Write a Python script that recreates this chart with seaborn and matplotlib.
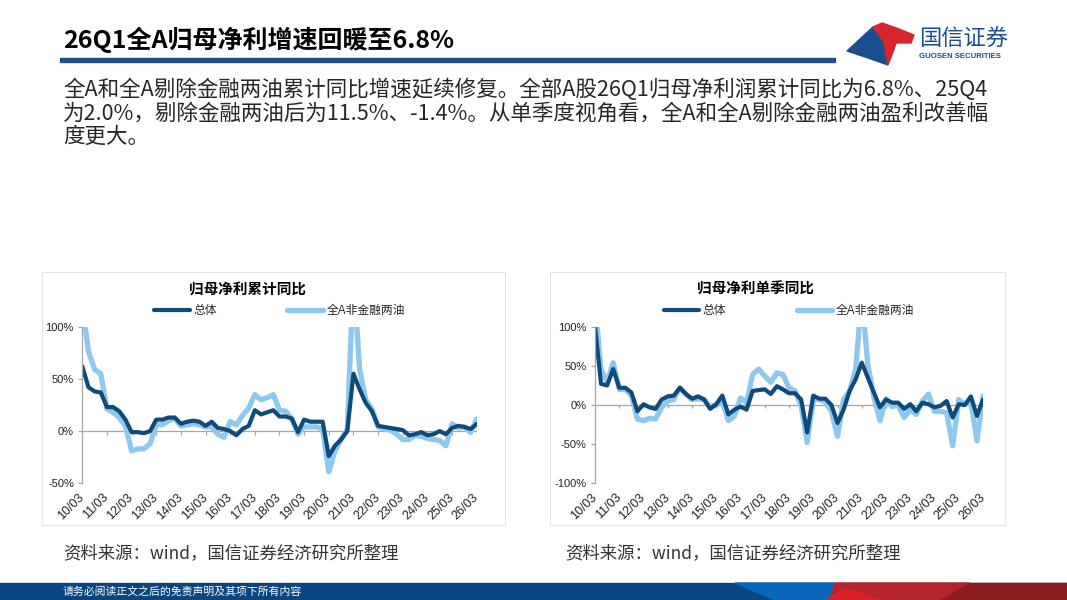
import matplotlib.pyplot as plt
import matplotlib.patches as mpatches
import numpy as np
import seaborn as sns
from matplotlib.lines import Line2D

# ---- data (quarterly, 10Q1 .. 26Q1), percent ----
year_labels = ["10/03", "11/03", "12/03", "13/03", "14/03", "15/03", "16/03", "17/03",
               "18/03", "19/03", "20/03", "21/03", "22/03", "23/03", "24/03", "25/03", "26/03"]

cum_total = [62, 42, 38, 37, 23, 23, 19, 11, -1, -1, -2, 0, 11, 11, 13, 13,
             7, 9, 10, 9, 5, 9, 3, 2, 0, -4, 2, 5, 20, 16, 18, 20,
             14, 14, 12, -1, 11, 9, 9, 9, -24, -14, -8, 0, 55, 40, 27, 19,
             5, 4, 3, 2, 1, -4, -3, -1, -4, -3, 0, -3, 3, 5, 4, 2.0, 6.8]
cum_exfin = [120, 76, 59, 55, 21, 18, 13, 5, -19, -17, -17, -12, 6, 6, 10, 12,
             5, 6, 7, 6, 4, 4, -3, -6, 9, 6, 15, 22, 35, 30, 32, 35,
             20, 19, 12, -3, 4, 4, 4, 2, -39, -19, -8, 2, 150, 59, 30, 21,
             4, 2, 1, -3, -8, -8, -4, -5, -7, -8, -9, -14, 7, 3, 4, -1.4, 11.5]

qtr_total = [100, 27, 25, 46, 22, 22, 16, -8, 1, -3, -5, 7, 11, 12, 22, 14,
             8, 11, 7, -5, 1, 12, -12, -6, -2, -6, 18, 19, 20, 14, 24, 20,
             15, 15, 7, -35, 12, 8, 8, 0, -23, -6, 18, 33, 54, 35, 16, -3,
             7, 3, 3, -5, 1, -8, 3, 1, -3, -1, 5, -16, 1, 0, 11, -14, 6.8]
qtr_exfin = [130, 45, 30, 54, 20, 20, 12, -18, -20, -17, -18, -3, 5, 7, 22, 14,
             7, 8, 7, -2, 0, 5, -20, -14, 9, 3, 39, 46, 37, 29, 41, 39,
             22, 18, -1, -48, 7, 7, 4, -8, -40, 7, 18, 46, 140, 52, 10, -20,
             8, -2, 0, -16, -6, -12, 5, 14, -8, -8, -10, -52, 7, 1, 5, -46, 11.5]

series_names = ["总体", "全A非金融两油"]
chart_titles = ["归母净利累计同比", "归母净利单季同比"]

DARK = "#0E4A7C"
LIGHT = "#8DC8F0"
GRAY = "#A6A6A6"

W, H = 1067, 600


def fx(x):
    return x / W


def fy(y):
    return 1 - y / H


sns.set_theme(style="white")
plt.rcParams["font.family"] = ["Liberation Sans", "Noto Sans CJK SC", "DejaVu Sans"]
plt.rcParams["axes.unicode_minus"] = False

fig = plt.figure(figsize=(W / 100, H / 100), dpi=100)
fig.patch.set_facecolor("white")

CJK = ["Noto Sans CJK SC", "DejaVu Sans"]

# ---- header ----
fig.text(fx(63), fy(40), "26Q1全A归母净利增速回暖至6.8%", family=CJK, fontsize=18,
         fontweight="bold", color="black", va="center", ha="left")
fig.patches.append(mpatches.Rectangle((fx(60), fy(62)), fx(835) - fx(60), 3.5 / H,
                                      transform=fig.transFigure, color="#1F4E86", zorder=1))

# logo
red_pts = [(873, 27), (882, 23), (899, 29), (914, 35), (911, 43), (896, 43), (893, 52),
           (888, 65), (886, 55), (884, 42)]
blue_pts = [(847, 51), (873, 27), (884, 42), (886, 55), (888, 65), (868, 58)]
for pts, col in [(blue_pts, "#1B4E91"), (red_pts, "#D7262E")]:
    fig.patches.append(mpatches.Polygon([(fx(a), fy(b)) for a, b in pts], closed=True,
                                        transform=fig.transFigure, color=col, zorder=2))
fig.text(fx(919), fy(39), "国信证券", family=CJK, fontsize=16, color="#1B4E91",
         va="center", ha="left")
fig.text(fx(919), fy(57), "GUOSEN SECURITIES", fontsize=5.6, fontweight="bold",
         color="#1B4E91", va="center", ha="left")

# body text
body = ["全A和全A剔除金融两油累计同比增速延续修复。全部A股26Q1归母净利润累计同比为6.8%、25Q4",
        "为2.0%，剔除金融两油后为11.5%、-1.4%。从单季度视角看，全A和全A剔除金融两油盈利改善幅",
        "度更大。"]
for i, line in enumerate(body):
    fig.text(fx(63), fy(90 + i * 23.5), line, family=CJK, fontsize=15.5, color="#262626",
             va="center", ha="left")

# ---- charts ----
panels = [
    dict(data=(cum_total, cum_exfin), ylim=(-50, 100), yt=[-50, 0, 50, 100],
         ax_px=(82.3, 326.7, 476.7, 483.3), box=(42, 272, 505, 525),
         title_x=248, src_x=63),
    dict(data=(qtr_total, qtr_exfin), ylim=(-100, 100), yt=[-100, -50, 0, 50, 100],
         ax_px=(595, 326.7, 983, 483.3), box=(550, 272, 1005, 525),
         title_x=756, src_x=565),
]

for p, title in zip(panels, chart_titles):
    bx0, by0, bx1, by1 = p["box"]
    fig.patches.append(mpatches.Rectangle((fx(bx0), fy(by1)), fx(bx1) - fx(bx0), (by1 - by0) / H,
                                          transform=fig.transFigure, fill=False,
                                          edgecolor="#E3E3E3", linewidth=0.8, zorder=0))
    x0, y0, x1, y1 = p["ax_px"]
    ax = fig.add_axes([fx(x0), fy(y1), (x1 - x0) / W, (y1 - y0) / H])
    ax.set_facecolor("none")

    total, exfin = p["data"]
    q = np.arange(len(total))
    sns.lineplot(x=q, y=exfin, ax=ax, color=LIGHT, linewidth=3.8,
                 solid_joinstyle="round", solid_capstyle="round")
    sns.lineplot(x=q, y=total, ax=ax, color=DARK, linewidth=3.0,
                 solid_joinstyle="round", solid_capstyle="round")

    ax.set_xlim(0, len(total) - 1)
    ax.set_ylim(*p["ylim"])
    px_per_unit = (y1 - y0) / (p["ylim"][1] - p["ylim"][0])

    # zero line with year ticks
    ax.axhline(0, color=GRAY, linewidth=0.9, zorder=1)
    year_pos = np.arange(len(year_labels)) * 4
    ax.vlines(year_pos, -3.5 / px_per_unit, 0, color=GRAY, linewidth=0.9, zorder=1)

    for s in ["top", "right", "bottom"]:
        ax.spines[s].set_visible(False)
    ax.spines["left"].set_color(GRAY)
    ax.spines["left"].set_linewidth(0.9)

    ax.set_yticks(p["yt"])
    ax.set_yticklabels([f"{v}%" for v in p["yt"]])
    ax.tick_params(axis="y", which="major", left=True, length=3, width=0.9, color=GRAY,
                   pad=3, labelsize=8, labelcolor="#222222")

    ax.set_xticks(year_pos)
    ax.set_xticklabels(year_labels, rotation=45, ha="right", va="center",
                       rotation_mode="anchor")
    ax.tick_params(axis="x", which="major", bottom=True, length=0, pad=9,
                   labelsize=9, labelcolor="#222222")
    ax.set_xlabel("")
    ax.set_ylabel("")
    ax.grid(False)

    # title and legend
    fig.text(fx(p["title_x"]), fy(289), title, family=CJK, fontsize=10.5,
             fontweight="bold", color="black", ha="center", va="center")
    handles = [Line2D([0], [0], color=DARK, linewidth=3.0),
               Line2D([0], [0], color=LIGHT, linewidth=3.8)]
    ax.legend(handles, series_names, loc="center",
              bbox_to_anchor=(fx((x0 + x1) / 2), fy(311)), bbox_transform=fig.transFigure,
              ncol=2, frameon=False, handlelength=3.0, handletextpad=0.3,
              columnspacing=6.0, fontsize=8.5, borderpad=0)

    fig.text(fx(p["src_x"]), fy(553), "资料来源：wind，国信证券经济研究所整理", family=CJK,
             fontsize=12.5, color="#333333", ha="left", va="center")

# ---- footer ----
foot_top = 583
fig.patches.append(mpatches.Rectangle((0, 0), 1, (H - foot_top) / H, transform=fig.transFigure,
                                      color="#0B457F", zorder=1))
footer_shapes = [
    ([(735, foot_top), (835, foot_top), (830, 600), (775, 600)], "#0A66B8"),
    ([(835, foot_top), (970, foot_top), (940, 600), (830, 600)], "#B3252B"),
    ([(826, 600), (845, 588), (880, 600)], "#DC1E26"),
    ([(970, foot_top), (1067, foot_top), (1067, 600), (940, 600)], "#8C1C1F"),
]
for pts, col in footer_shapes:
    fig.patches.append(mpatches.Polygon([(fx(a), fy(b)) for a, b in pts], closed=True,
                                        transform=fig.transFigure, color=col, zorder=2))
fig.text(fx(63), fy(591.5), "请务必阅读正文之后的免责声明及其项下所有内容", family=CJK,
         fontsize=7.8, color="white", ha="left", va="center", zorder=3)

fig.savefig("out.png", dpi=100, facecolor="white")
